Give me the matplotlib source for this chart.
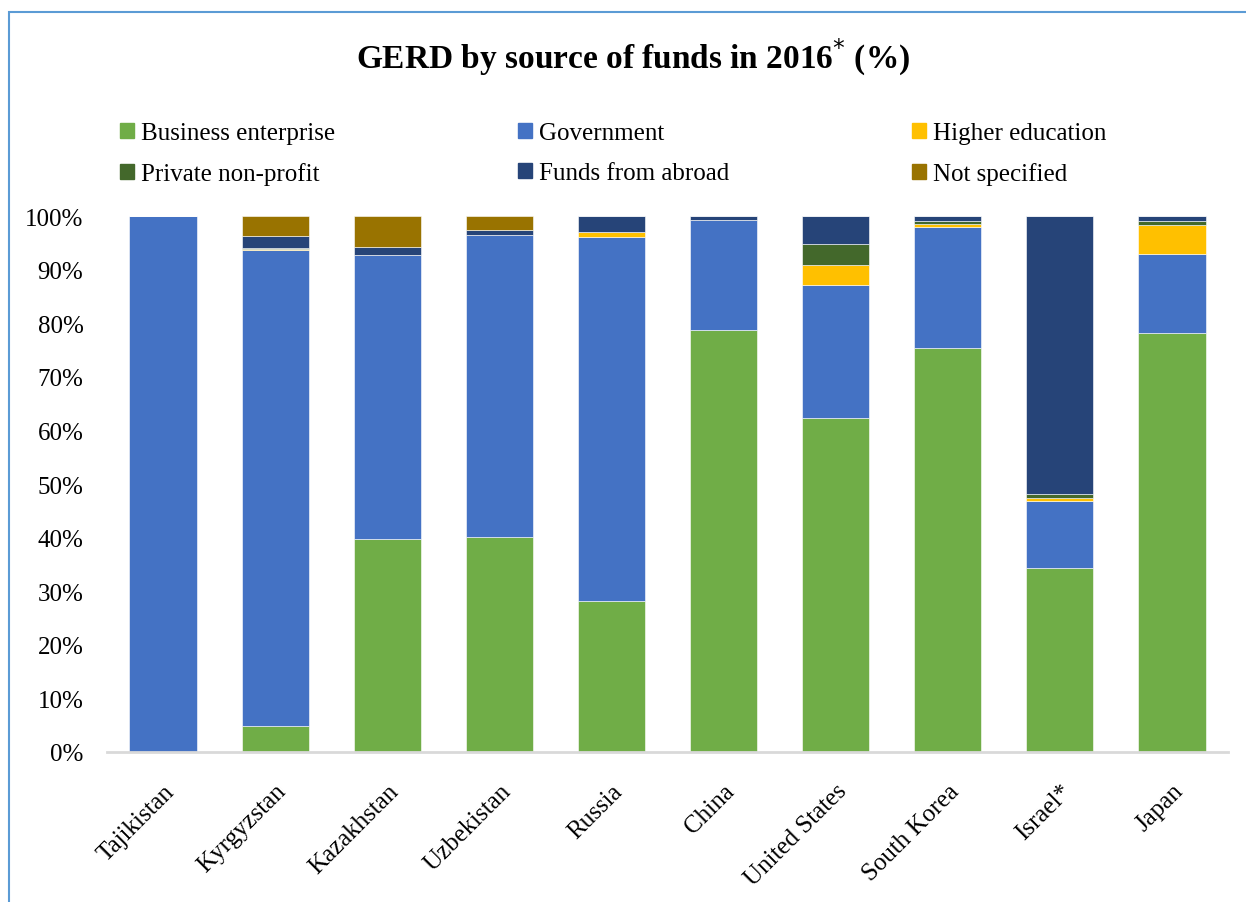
import numpy as np
import matplotlib.pyplot as plt
from matplotlib.patches import Rectangle, Patch

plt.rcParams['font.family'] = ['Liberation Serif', 'DejaVu Serif']

# ----------------------------
# Data (% of GERD)
# ----------------------------

countries = ["Tajikistan", "Kyrgyzstan", "Kazakhstan", "Uzbekistan", "Russia",
             "China", "United States", "South Korea", "Israel*", "Japan"]

business   = [0.0, 4.8, 39.7, 40.2, 28.2, 78.7, 62.3, 75.4, 34.3, 78.1]
government = [100.0, 88.8, 53.0, 56.3, 67.9, 20.6, 24.9, 22.6, 12.6, 14.9]
higher_ed  = [0.0, 0.3, 0.0, 0.0, 1.0, 0.0, 3.7, 0.6, 0.5, 5.4]
private_np = [0.0, 0.1, 0.0, 0.0, 0.0, 0.0, 3.8, 0.4, 0.8, 0.7]
abroad     = [0.0, 2.2, 1.6, 0.8, 2.9, 0.7, 5.3, 1.0, 51.8, 0.9]
not_spec   = [0.0, 3.8, 5.7, 2.7, 0.0, 0.0, 0.0, 0.0, 0.0, 0.0]

series = [
    ("Business enterprise", business,   "#70AD47"),
    ("Government",          government, "#4472C4"),
    ("Higher education",    higher_ed,  "#FFC000"),
    ("Private non-profit",  private_np, "#43682B"),
    ("Funds from abroad",   abroad,     "#264478"),
    ("Not specified",       not_spec,   "#997300"),
]

# ----------------------------
# Plot
# ----------------------------

fig = plt.figure(figsize=(12.46, 9.03), dpi=100)
ax = fig.add_axes([107 / 1246, 1 - 753 / 903, (1228 - 107) / 1246, (753 - 217) / 903])

x = np.arange(len(countries))
bottom = np.zeros(len(countries))
handles = {}
for name, vals, color in series:
    vals = np.array(vals)
    ax.bar(x, vals, 0.6, bottom=bottom, color=color, edgecolor="white", linewidth=0.4)
    handles[name] = Patch(facecolor=color, edgecolor=color)
    bottom += vals

ax.set_xlim(-0.5, len(countries) - 0.5)
ax.set_ylim(0, 100)
ax.set_yticks(np.arange(0, 101, 10))
ax.set_yticklabels([f"{v}%" for v in range(0, 101, 10)], fontsize=18)
ax.set_xticks(x)
ax.set_xticklabels(countries, fontsize=18, rotation=45, ha="right", rotation_mode="anchor")
ax.tick_params(axis="both", length=0)
ax.tick_params(axis="y", pad=17)
ax.tick_params(axis="x", pad=20)

for s in ["top", "right", "left"]:
    ax.spines[s].set_visible(False)
ax.spines["bottom"].set_color("#D9D9D9")
ax.spines["bottom"].set_linewidth(2)

fig.text(0.508, 1 - 57 / 903, r"GERD by source of funds in 2016$^{*}$ (%)",
         ha="center", va="center", fontsize=24, fontweight="bold")

order = ["Business enterprise", "Private non-profit", "Government",
         "Funds from abroad", "Higher education", "Not specified"]
fig.legend([handles[n] for n in order], order, ncol=3, frameon=False,
           loc="upper left", bbox_to_anchor=(120 / 1246, 1 - 123 / 903),
           borderaxespad=0, borderpad=0,
           fontsize=18, handlelength=0.55, handleheight=0.55, handletextpad=0.3,
           columnspacing=7.3, labelspacing=0.72)

# thin blue frame around the chart area
fig.patches.append(Rectangle((9 / 1246, -0.05), 1.1, 1 - 13 / 903 + 0.05,
                             transform=fig.transFigure, fill=False,
                             edgecolor="#5B9BD5", linewidth=1.5))

fig.savefig("out.png", dpi=100)
